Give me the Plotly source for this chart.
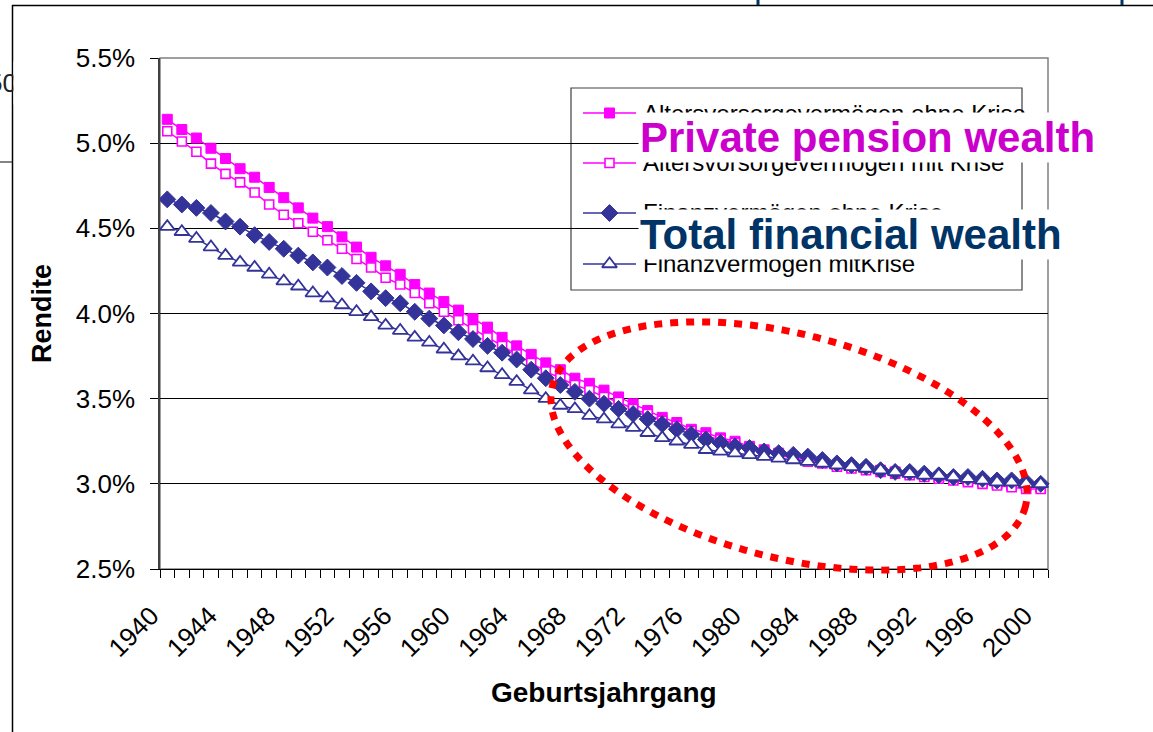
import math
import plotly.graph_objects as go

# ---------------- data ----------------
years = list(range(1940, 2001))

alters_ohne = [5.14, 5.08, 5.03, 4.97, 4.91, 4.85, 4.80, 4.74, 4.68, 4.62,
               4.56, 4.51, 4.45, 4.39, 4.33, 4.28, 4.23, 4.17, 4.12, 4.07,
               4.02, 3.97, 3.92, 3.86, 3.81, 3.76, 3.71, 3.67, 3.62, 3.59,
               3.55, 3.51, 3.47, 3.43, 3.39, 3.36, 3.32, 3.30, 3.27, 3.25,
               3.22, 3.20, 3.18, 3.16, 3.14, 3.13, 3.11, 3.10, 3.09, 3.08,
               3.07, 3.06, 3.05, 3.04, 3.03, 3.02, 3.01, 3.00, 2.99, 2.99,
               2.98]

alters_mit = [5.07, 5.01, 4.95, 4.88, 4.82, 4.77, 4.71, 4.64, 4.58, 4.53,
              4.48, 4.43, 4.38, 4.32, 4.27, 4.21, 4.17, 4.12, 4.06, 4.01,
              3.96, 3.91, 3.86, 3.81, 3.76, 3.71, 3.66, 3.62, 3.58, 3.55,
              3.51, 3.48, 3.44, 3.41, 3.37, 3.34, 3.31, 3.28, 3.26, 3.24,
              3.21, 3.19, 3.17, 3.15, 3.13, 3.12, 3.10, 3.09, 3.08, 3.07,
              3.06, 3.05, 3.04, 3.03, 3.02, 3.01, 3.00, 2.99, 2.98, 2.97,
              2.97]

finanz_ohne = [4.67, 4.64, 4.62, 4.59, 4.54, 4.51, 4.46, 4.42, 4.38, 4.34,
               4.30, 4.27, 4.22, 4.18, 4.13, 4.09, 4.06, 4.01, 3.97, 3.93,
               3.89, 3.85, 3.81, 3.77, 3.73, 3.67, 3.62, 3.58, 3.54, 3.50,
               3.47, 3.44, 3.41, 3.38, 3.35, 3.32, 3.29, 3.26, 3.24, 3.22,
               3.21, 3.19, 3.18, 3.17, 3.16, 3.14, 3.12, 3.11, 3.10, 3.08,
               3.07, 3.07, 3.06, 3.05, 3.04, 3.04, 3.03, 3.02, 3.02, 3.01,
               3.00]

finanz_mit = [4.51, 4.48, 4.44, 4.39, 4.34, 4.30, 4.27, 4.23, 4.19, 4.16,
              4.12, 4.09, 4.05, 4.01, 3.98, 3.93, 3.90, 3.86, 3.83, 3.79,
              3.75, 3.72, 3.68, 3.64, 3.60, 3.55, 3.50, 3.46, 3.44, 3.40,
              3.38, 3.35, 3.33, 3.30, 3.27, 3.25, 3.23, 3.20, 3.19, 3.18,
              3.17, 3.16, 3.15, 3.14, 3.13, 3.12, 3.11, 3.10, 3.09, 3.08,
              3.07, 3.06, 3.05, 3.05, 3.04, 3.03, 3.02, 3.01, 3.01, 3.00,
              3.00]

series_names = ["Altersvorsorgevermögen ohne Krise",
                "Altersvorsorgevermögen mit Krise",
                "Finanzvermögen ohne Krise",
                "Finanzvermögen mitKrise"]

x_tick_years = list(range(1940, 2001, 4))
x_tick_text = [str(y) for y in x_tick_years]
y_tick_vals = [2.5, 3.0, 3.5, 4.0, 4.5, 5.0, 5.5]
y_tick_text = ["2.5%", "3.0%", "3.5%", "4.0%", "4.5%", "5.0%", "5.5%"]

overlay_labels = ["Private pension wealth", "Total financial wealth"]
y_title = "Rendite"
x_title = "Geburtsjahrgang"

# ---------------- layout helpers ----------------
W, H = 1153, 732
FONT = "Liberation Sans, Arial, sans-serif"


def px(x):
    return x / W


def py(y):
    return 1 - y / H


PLOT_L, PLOT_R, PLOT_T, PLOT_B = 160, 1048, 58, 569
X_RANGE = [1939.5, 2000.5]
Y_RANGE = [2.5, 5.5]


def pix_to_x(x):
    return X_RANGE[0] + (x - PLOT_L) / (PLOT_R - PLOT_L) * (X_RANGE[1] - X_RANGE[0])


def pix_to_y(y):
    return Y_RANGE[1] - (y - PLOT_T) / (PLOT_B - PLOT_T) * (Y_RANGE[1] - Y_RANGE[0])


PINK = "#FF00FF"
NAVY = "#333399"

styles = [
    dict(line=dict(color=PINK, width=1.5),
         marker=dict(symbol="square", size=10, color=PINK,
                     line=dict(color=PINK, width=1))),
    dict(line=dict(color=PINK, width=1.5),
         marker=dict(symbol="square", size=9, color="white",
                     line=dict(color=PINK, width=1.6))),
    dict(line=dict(color=NAVY, width=1.5),
         marker=dict(symbol="diamond", size=13, color=NAVY,
                     line=dict(color=NAVY, width=1))),
    dict(line=dict(color=NAVY, width=1.5),
         marker=dict(symbol="triangle-up", size=13, color="white",
                     line=dict(color=NAVY, width=1.8))),
]

fig = go.Figure()
for name, vals, st in zip(series_names,
                          [alters_ohne, alters_mit, finanz_ohne, finanz_mit],
                          styles):
    fig.add_trace(go.Scatter(x=years, y=vals, name=name, mode="lines+markers",
                             line=st["line"], marker=st["marker"],
                             showlegend=False, cliponaxis=False))

# ---------------- manual legend ----------------
LEG_L, LEG_R, LEG_T, LEG_B = 571, 1022, 88, 290
row_y = [113, 163, 213, 264]
sym_x0, sym_x1 = 583, 636
sym_xc = (sym_x0 + sym_x1) / 2
text_x = 641

shapes = []
annotations = []

shapes.append(dict(type="rect", xref="paper", yref="paper",
                   x0=px(LEG_L), x1=px(LEG_R), y0=py(LEG_B), y1=py(LEG_T),
                   line=dict(color="#404040", width=1.2),
                   fillcolor="white", layer="between"))

# legend keys (line + marker) drawn above the legend box
for ry, st in zip(row_y, styles):
    fig.add_trace(go.Scatter(x=[pix_to_x(sym_x0), pix_to_x(sym_xc), pix_to_x(sym_x1)],
                             y=[pix_to_y(ry)] * 3, mode="lines",
                             line=dict(color=st["line"]["color"], width=1.5),
                             showlegend=False, hoverinfo="skip",
                             cliponaxis=False))
    fig.add_trace(go.Scatter(x=[pix_to_x(sym_xc)], y=[pix_to_y(ry)],
                             mode="markers", marker=st["marker"],
                             showlegend=False, hoverinfo="skip",
                             cliponaxis=False))

for ry, name in zip(row_y, series_names):
    annotations.append(dict(x=px(text_x), y=py(ry), xref="paper", yref="paper",
                            xanchor="left", yanchor="middle", showarrow=False,
                            text=name, font=dict(family=FONT, size=24,
                                                 color="black")))

# overlay English labels
annotations.append(dict(x=px(638), y=py(137), xref="paper", yref="paper",
                        xanchor="left", yanchor="middle", showarrow=False,
                        text="<b>%s</b>" % overlay_labels[0], bgcolor="white",
                        borderpad=1,
                        font=dict(family=FONT, size=42, color="#CC00CC")))
annotations.append(dict(x=px(638), y=py(234), xref="paper", yref="paper",
                        xanchor="left", yanchor="middle", showarrow=False,
                        text="<b>%s</b>" % overlay_labels[1], bgcolor="white",
                        borderpad=1,
                        font=dict(family=FONT, size=42, color="#003366")))

# axis titles
annotations.append(dict(x=px(42), y=py(313), xref="paper", yref="paper",
                        xanchor="center", yanchor="middle",
                        showarrow=False, textangle=-90,
                        text="<b>%s</b>" % y_title,
                        font=dict(family=FONT, size=27, color="black")))
annotations.append(dict(x=px(604), y=py(692), xref="paper", yref="paper",
                        xanchor="center", yanchor="middle",
                        showarrow=False, text="<b>%s</b>" % x_title,
                        font=dict(family=FONT, size=28, color="black")))

# slide leftovers: "50" clipped by chart frame
annotations.append(dict(x=px(19), y=py(83), xref="paper", yref="paper",
                        xanchor="right", yanchor="middle", showarrow=False,
                        text="50", font=dict(family=FONT, size=26,
                                             color="#222222")))
annotations.append(dict(x=px(13), y=py(83), xref="paper", yref="paper",
                        xanchor="left", yanchor="middle", showarrow=False,
                        text=" ", width=30, height=40, bgcolor="white"))

# plot-area border (grey) and frame lines
shapes.append(dict(type="rect", xref="paper", yref="paper",
                   x0=px(PLOT_L), x1=px(PLOT_R), y0=py(PLOT_B), y1=py(PLOT_T),
                   line=dict(color="#808080", width=1.5), layer="below"))
shapes.append(dict(type="line", xref="paper", yref="paper",
                   x0=px(12.5), x1=px(12.5), y0=py(5), y1=py(732),
                   line=dict(color="black", width=1.5)))
shapes.append(dict(type="line", xref="paper", yref="paper",
                   x0=px(12), x1=px(1153), y0=py(5.5), y1=py(5.5),
                   line=dict(color="black", width=1.5)))
shapes.append(dict(type="line", xref="paper", yref="paper",
                   x0=0, x1=px(12), y0=py(162), y1=py(162),
                   line=dict(color="#333333", width=1.2)))
# slide title box edges peeking above the frame (top right)
for bx in (758, 1122):
    shapes.append(dict(type="line", xref="paper", yref="paper",
                       x0=px(bx), x1=px(bx), y0=py(0), y1=py(5),
                       line=dict(color="#003366", width=3)))

# red dotted ellipse
cx, cy, ea, eb, th = 789, 446, 244, 112, math.radians(14.3)
pts = []
for i in range(181):
    t = 2 * math.pi * i / 180
    ex = cx + ea * math.cos(t) * math.cos(th) - eb * math.sin(t) * math.sin(th)
    ey = cy + ea * math.cos(t) * math.sin(th) + eb * math.sin(t) * math.cos(th)
    pts.append((px(ex), py(ey)))
path = "M " + " L ".join("%.5f,%.5f" % p for p in pts) + " Z"
shapes.append(dict(type="path", xref="paper", yref="paper", path=path,
                   line=dict(color="#FF0000", width=7, dash="8px,8px"),
                   layer="above"))

fig.update_layout(
    width=W, height=H,
    margin=dict(l=0, r=0, t=0, b=0, pad=0, autoexpand=False),
    paper_bgcolor="white", plot_bgcolor="white",
    showlegend=False,
    font=dict(family=FONT, color="black"),
    xaxis=dict(domain=[px(PLOT_L), px(PLOT_R)], range=X_RANGE,
               automargin=False,
               tickmode="array", tickvals=x_tick_years, ticktext=x_tick_text,
               tickangle=-45, ticks="", ticklabelstandoff=20,
               ticklabelshift=-16,
               tickfont=dict(family=FONT, size=26, color="black"),
               showgrid=False, zeroline=False,
               showline=True, linecolor="black", linewidth=1.2,
               minor=dict(ticks="outside", tick0=1939.5, dtick=1, ticklen=8,
                          tickcolor="black", tickwidth=1, showgrid=False)),
    yaxis=dict(domain=[py(PLOT_B), py(PLOT_T)], range=Y_RANGE,
               automargin=False,
               tickmode="array", tickvals=y_tick_vals, ticktext=y_tick_text,
               ticks="outside", ticklen=8, tickcolor="black", tickwidth=1,
               ticklabelstandoff=10,
               tickfont=dict(family=FONT, size=26, color="black"),
               showgrid=True, gridcolor="black", gridwidth=1,
               zeroline=False, showline=True, linecolor="#404040",
               linewidth=1.5),
    shapes=shapes,
    annotations=annotations,
)

fig.write_html("out.html",
               config={"displayModeBar": False},
               post_script="document.body.style.margin='0px';"
                           "document.body.style.overflow='hidden';")
